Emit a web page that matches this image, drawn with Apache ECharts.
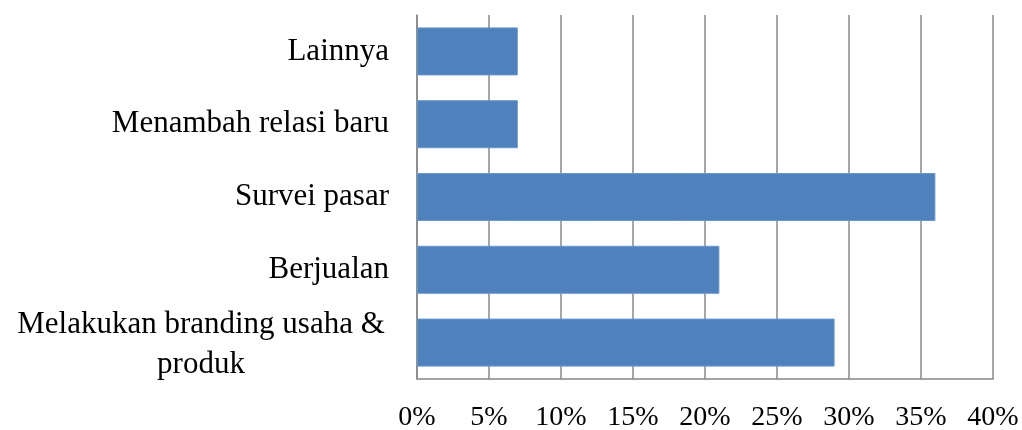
<!DOCTYPE html>
<html>
<head>
	<meta charset="utf-8" />
	<title>Kegiatan usaha</title>
	<style>
		* { margin: 0; padding: 0; }
		body { background: #fff; }
		#main { width: 1022px; height: 430px; }
	</style>
</head>
<body>
	<div id="main"></div>
	<script src="https://cdn.jsdelivr.net/npm/echarts@6/dist/echarts.min.js"></script>
	<script>
		// kategori dari bawah ke atas (urutan sumbu kategori ECharts)
		var categories = ['Melakukan branding usaha &\nproduk', 'Berjualan', 'Survei pasar', 'Menambah relasi baru', 'Lainnya'];
		var values = [29, 21, 36, 7, 7];
		var ticks = [0, 5, 10, 15, 20, 25, 30, 35, 40];

		var myChart = echarts.init(document.getElementById('main'));
		var font = '"Liberation Serif", "Times New Roman", serif';

		var option = {
			animation: false,
			grid: { left: 417, right: 29, top: 15, bottom: 51, outerBoundsMode: 'none', containLabel: false },
			xAxis: {
				type: 'value',
				min: ticks[0],
				max: ticks[ticks.length - 1],
				interval: 5,
				axisLine: { show: true, lineStyle: { color: '#888', width: 1.5 } },
				axisTick: { show: false },
				splitLine: { show: true, lineStyle: { color: '#888', width: 1.5 } },
				axisLabel: {
					formatter: '{value}%',
					color: '#000',
					fontFamily: font,
					fontSize: 28,
					margin: 25
				}
			},
			yAxis: {
				type: 'category',
				data: categories,
				axisLine: { show: true, lineStyle: { color: '#888', width: 1.5 } },
				axisTick: { show: false },
				axisLabel: {
					color: '#000',
					fontFamily: font,
					fontSize: 31,
					margin: 28,
					formatter: function (v) {
						// label dua baris ditengahkan
						if (v.indexOf('\n') >= 0) return '{c|' + v + '}';
						return v;
					},
					rich: {
						c: {
							width: 376,
							align: 'center',
							fontFamily: font,
							fontSize: 31,
							lineHeight: 40,
							padding: [4, 0, 0, 0],
							color: '#000'
						}
					}
				}
			},
			series: [{
				type: 'bar',
				data: values,
				barCategoryGap: '34%',
				itemStyle: { color: '#4F81BD', borderColor: '#6b98cc', borderWidth: 1 }
			}]
		};
		myChart.setOption(option);
	</script>
</body>
</html>
